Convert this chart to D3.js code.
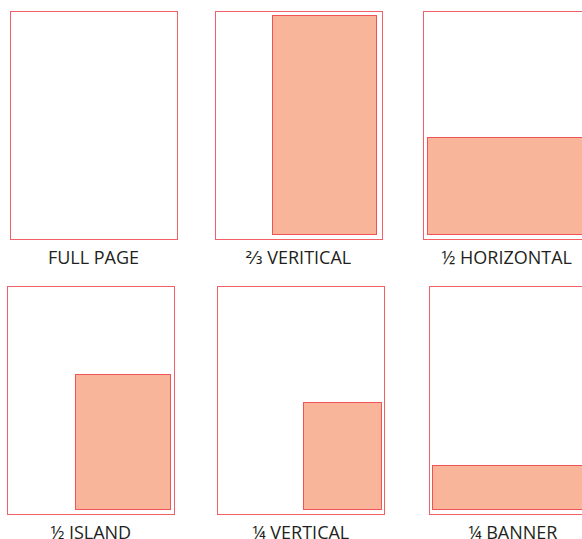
<!DOCTYPE html>
<html>
<head>
<meta charset="utf-8">
<script src="https://cdn.jsdelivr.net/npm/d3@7"></script>
<style>
  html, body { margin: 0; padding: 0; background: #fff; overflow: hidden; }
  svg { display: block; }
</style>
</head>
<body>
<div id="chart"></div>
<script>
// ad-size sheet: six page layouts, ad area in page percent (0..100)
const LAYOUTS = ["FULL PAGE", "⅔ VERITICAL", "½ HORIZONTAL", "½ ISLAND", "¼ VERTICAL", "¼ BANNER"];
const AD_X0 = [null, 34.3, 2.4, 40.8, 51.1, 1.6];
const AD_X1 = [null, 96.4, 96.4, 97.2, 97.8, 97.8];
const AD_Y0 = [null, 1.9, 55.1, 38.7, 51.0, 78.5];
const AD_Y1 = [null, 97.8, 97.8, 98.0, 98.1, 98.1];

/* layout of the sheet (pixels) */
const PANEL_LEFT = [10, 214.7, 423.3, 7.3, 217.3, 429.3];
const PANEL_TOP  = [11, 11, 11, 285.7, 285.7, 285.7];
const PANEL_W = 167, PANEL_H = 228;
const LABEL_GAP = 25;

const width = 582, height = 539;
const crisp = v => Math.round(v) + 0.5;

const svg = d3.select("#chart").append("svg")
  .attr("width", width).attr("height", height);

LAYOUTS.forEach((name, i) => {
  const x = d3.scaleLinear().domain([0, 100]).range([PANEL_LEFT[i], PANEL_LEFT[i] + PANEL_W]);
  const y = d3.scaleLinear().domain([0, 100]).range([PANEL_TOP[i], PANEL_TOP[i] + PANEL_H]);
  const g = svg.append("g");

  // page outline
  g.append("rect")
    .attr("x", crisp(x(0))).attr("y", crisp(y(0)))
    .attr("width", Math.round(x(100) - x(0)))
    .attr("height", Math.round(y(100) - y(0)))
    .attr("fill", "none")
    .attr("stroke", "#ee2a33")
    .attr("stroke-opacity", 0.75);

  // ad area
  if (AD_X0[i] != null) {
    const x0 = crisp(x(AD_X0[i])), y0 = crisp(y(AD_Y0[i]));
    g.append("rect")
      .attr("x", x0).attr("y", y0)
      .attr("width", Math.round(x(AD_X1[i])) + 0.5 - x0)
      .attr("height", Math.round(y(AD_Y1[i])) + 0.5 - y0)
      .attr("fill", "#f8b59a")
      .attr("stroke", "#ee3a3f")
      .attr("stroke-opacity", 0.85);
  }

  // caption
  g.append("text")
    .attr("x", x(50))
    .attr("y", y(100) + LABEL_GAP)
    .attr("text-anchor", "middle")
    .attr("font-family", "'Open Sans', 'DejaVu Sans', sans-serif")
    .attr("font-size", 18)
    .attr("fill", "#231f20")
    .text(name);
});
</script>
</body>
</html>
